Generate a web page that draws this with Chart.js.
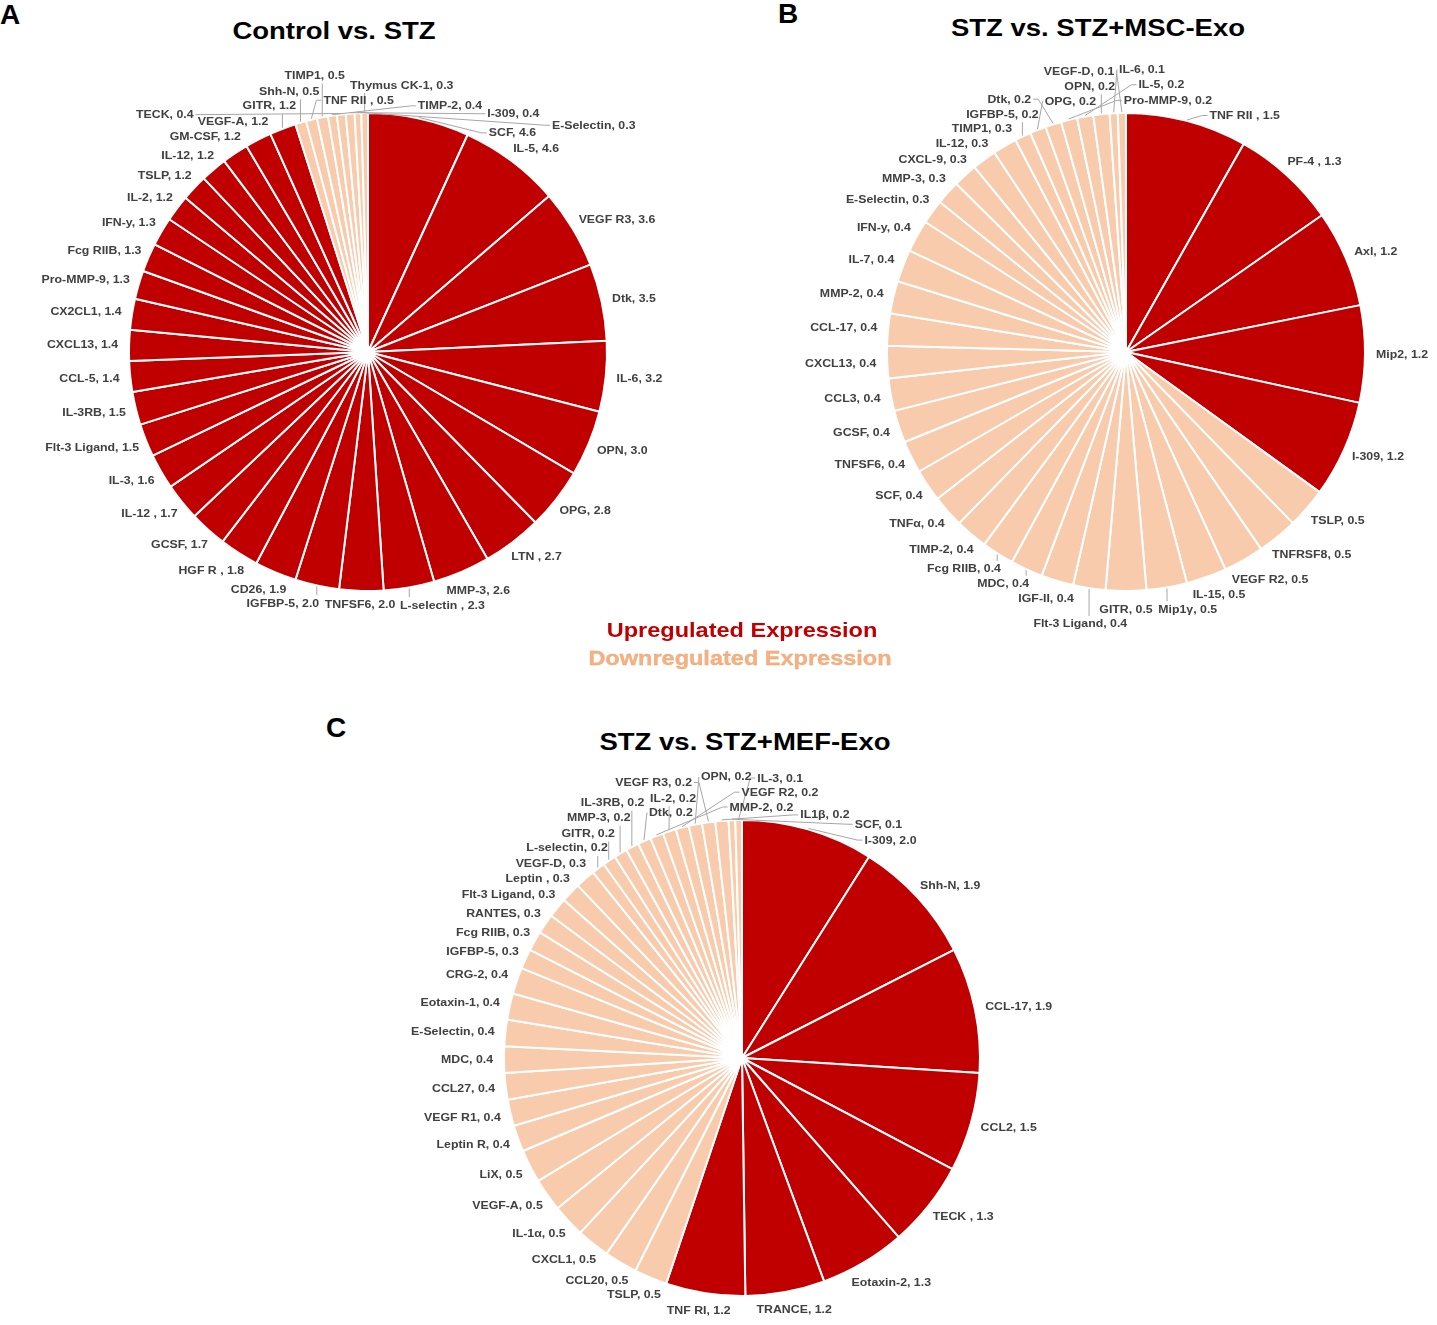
<!DOCTYPE html>
<html>
<head>
<meta charset="utf-8">
<script src="https://cdn.jsdelivr.net/npm/chart.js@4.4.1/dist/chart.umd.min.js"></script>
<style>
html,body{margin:0;padding:0;background:#fff;width:1437px;height:1325px;overflow:hidden;font-family:"Liberation Sans",Arial,sans-serif;}
.letter{position:absolute;font-weight:bold;font-size:28px;line-height:1;color:#000;white-space:nowrap;}
.title{position:absolute;font-weight:bold;font-size:23.5px;line-height:1;color:#000;white-space:nowrap;transform:translateX(-50%) scaleX(1.17);}
.leg{position:absolute;font-weight:bold;font-size:21px;line-height:1;white-space:nowrap;transform:translateX(-50%) scaleX(1.12);z-index:5;}
.box{position:absolute;}
</style>
</head>
<body>
<div class="letter" style="left:0px;top:1.3px">A</div>
<div class="letter" style="left:778px;top:0.3px">B</div>
<div class="letter" style="left:326px;top:714.3px">C</div>
<div class="title" style="left:334px;top:19.6px">Control vs. STZ</div>
<div class="title" style="left:1098px;top:16.5px">STZ vs. STZ+MSC-Exo</div>
<div class="title" style="left:744.5px;top:730.5px">STZ vs. STZ+MEF-Exo</div>
<div class="leg" style="left:742px;top:619px;color:#c00000">Upregulated Expression</div>
<div class="leg" style="left:740px;top:647.3px;color:#f4b183;-webkit-text-stroke:0.3px #eba070">Downregulated Expression</div>

<div class="box" id="boxA" style="left:0px;top:50px;width:740px;height:565px"><canvas id="cA"></canvas></div>
<div class="box" id="boxB" style="left:770px;top:50px;width:667px;height:590px"><canvas id="cB"></canvas></div>
<div class="box" id="boxC" style="left:330px;top:762px;width:790px;height:563px"><canvas id="cC"></canvas></div>

<script>
// ---------------- DATA ----------------
// A: Control vs. STZ (fold change, clockwise from 12 o'clock)
const labelsA = ['SCF','IL-5','VEGF R3','Dtk','IL-6','OPN','OPG','LTN ','MMP-3','L-selectin ',
  'TNFSF6','IGFBP-5','CD26','HGF R ','GCSF','IL-12 ','IL-3','Flt-3 Ligand','IL-3RB','CCL-5',
  'CXCL13','CX2CL1','Pro-MMP-9','Fcg RIIB','IFN-y','IL-2','TSLP','IL-12','GM-CSF','VEGF-A',
  'GITR','Shh-N','TNF RII ','TIMP1','TIMP-2','TECK','I-309','E-Selectin','Thymus CK-1'];
const valuesA = [4.6,4.6,3.6,3.5,3.2,3.0,2.8,2.7,2.6,2.3,
  2.0,2.0,1.9,1.8,1.7,1.7,1.6,1.5,1.5,1.4,
  1.4,1.4,1.3,1.3,1.3,1.2,1.2,1.2,1.2,1.2,
  1.2,0.5,0.5,0.5,0.4,0.4,0.4,0.3,0.3];

// B: STZ vs. STZ+MSC-Exo
const labelsB = ['TNF RII ','PF-4 ','Axl','Mip2','I-309',
  'TSLP','TNFRSF8','VEGF R2','IL-15','Mip1\u03b3','GITR',
  'Flt-3 Ligand','IGF-II','MDC','Fcg RIIB','TIMP-2','TNF\u03b1','SCF','TNFSF6','GCSF','CCL3',
  'CXCL13','CCL-17','MMP-2','IL-7','IFN-y',
  'E-Selectin','MMP-3','CXCL-9','IL-12','TIMP1',
  'IGFBP-5','OPG','Dtk','Pro-MMP-9','IL-5','OPN','IL-6','VEGF-D'];
const valuesB = [1.5,1.3,1.2,1.2,1.2,
  0.5,0.5,0.5,0.5,0.5,0.5,
  0.4,0.4,0.4,0.4,0.4,0.4,0.4,0.4,0.4,0.4,
  0.4,0.4,0.4,0.4,0.4,
  0.3,0.3,0.3,0.3,0.3,
  0.2,0.2,0.2,0.2,0.2,0.2,0.1,0.1];

// C: STZ vs. STZ+MEF-Exo
const labelsC = ['I-309','Shh-N','CCL-17','CCL2','TECK ','Eotaxin-2','TRANCE','TNF RI',
  'TSLP','CCL20','CXCL1','IL-1\u03b1','VEGF-A','LiX',
  'Leptin R','VEGF R1','CCL27','MDC','E-Selectin','Eotaxin-1','CRG-2',
  'IGFBP-5','Fcg RIIB','RANTES','Flt-3 Ligand','Leptin ','VEGF-D',
  'L-selectin','GITR','MMP-3','IL-3RB','Dtk','MMP-2','IL-2','VEGF R2','OPN','VEGF R3','IL1\u03b2',
  'SCF','IL-3'];
const valuesC = [2.0,1.9,1.9,1.5,1.3,1.3,1.2,1.2,
  0.5,0.5,0.5,0.5,0.5,0.5,
  0.4,0.4,0.4,0.4,0.4,0.4,0.4,
  0.3,0.3,0.3,0.3,0.3,0.3,
  0.2,0.2,0.2,0.2,0.2,0.2,0.2,0.2,0.2,0.2,0.2,
  0.1,0.1];

// ---------------- STYLE ----------------
const UP = '#c00000';
const DOWN = '#f8cbad';
const SX = 1.12;
const LABEL_FONT = 'bold 11px "Liberation Sans", Arial, sans-serif';
const LH = 14;
const GAP = 11;
const LINE_MIN = 6;

const OFFSETS = (() => {
  const arr = [];
  for (let dx = -320; dx <= 320; dx += 2)
    for (let dy = -180; dy <= 180; dy += 2)
      arr.push([dx, dy, Math.hypot(dx, 1.4 * dy), Math.hypot(dx, dy)]);
  arr.sort((a, b) => a[2] - b[2]);
  return arr;
})();

function segHitsRect(x1, y1, x2, y2, r) {
  let t0 = 0, t1 = 1;
  const dx = x2 - x1, dy = y2 - y1;
  const p = [-dx, dx, -dy, dy];
  const q = [x1 - r.x, r.x + r.w - x1, y1 - r.y, r.y + r.h - y1];
  for (let i = 0; i < 4; i++) {
    if (p[i] === 0) { if (q[i] < 0) return false; }
    else {
      const t = q[i] / p[i];
      if (p[i] < 0) { if (t > t1) return false; if (t > t0) t0 = t; }
      else { if (t < t0) return false; if (t < t1) t1 = t; }
    }
  }
  return true;
}

function segMinDist(x1, y1, x2, y2, cx, cy) {
  const dx = x2 - x1, dy = y2 - y1;
  const L = dx * dx + dy * dy;
  let t = L > 0 ? ((cx - x1) * dx + (cy - y1) * dy) / L : 0;
  t = Math.max(0, Math.min(1, t));
  return Math.hypot(x1 + t * dx - cx, y1 + t * dy - cy);
}

function leaderPts(ex, ey, b) {
  const my = b.y + b.h / 2;
  if (ex <= b.x) {
    const ax = b.x - 2;
    return (ax - ex > 10) ? [[ex, ey], [ax - 5, my], [ax, my]] : [[ex, ey], [ax, my]];
  }
  if (ex >= b.x + b.w) {
    const ax = b.x + b.w + 2;
    return (ex - ax > 10) ? [[ex, ey], [ax + 5, my], [ax, my]] : [[ex, ey], [ax, my]];
  }
  if (ey > b.y + b.h) return [[ex, ey], [ex, b.y + b.h + 1]];
  return [[ex, ey], [ex, b.y - 1]];
}

// level 0: strict, 1: lines may touch labels, 2: only boxes + bounds
function validBox(b, st, ex, ey, needLine, level) {
  const {placed, segs, cx, cy, r, W, H} = st;
  if (b.x < 2 || b.y < 2 || b.x + b.w > W - 2 || b.y + b.h > H - 2) return null;
  const nx = Math.max(b.x, Math.min(cx, b.x + b.w));
  const ny = Math.max(b.y, Math.min(cy, b.y + b.h));
  if (Math.hypot(nx - cx, ny - cy) < r + 5) return null;
  for (const p of placed) {
    if (b.x < p.x + p.w + 4 && b.x + b.w + 4 > p.x && b.y < p.y + p.h && b.y + b.h > p.y) return null;
  }
  if (level === 0) {
    const grown = {x: b.x - 1, y: b.y - 1, w: b.w + 2, h: b.h + 2};
    for (const s of segs) {
      if (segHitsRect(s[0], s[1], s[2], s[3], grown)) return null;
    }
  }
  let pts = [];
  if (needLine) {
    pts = leaderPts(ex, ey, b);
    for (let k = 1; k < pts.length; k++) {
      const x1 = pts[k - 1][0], y1 = pts[k - 1][1], x2 = pts[k][0], y2 = pts[k][1];
      if (level < 2 && segMinDist(x1, y1, x2, y2, cx, cy) < r - 0.5) return null;
      if (level === 0) {
        for (const p of placed) {
          if (segHitsRect(x1, y1, x2, y2, p)) return null;
        }
      }
    }
  }
  return pts;
}

function labelPlugin(names, values) {
  return {
    id: 'sliceLabels',
    afterDatasetsDraw(chart) {
      const ctx = chart.ctx;
      const arcs = chart.getDatasetMeta(0).data;
      ctx.save();
      ctx.font = LABEL_FONT;
      const st = {placed: [], segs: [], cx: 0, cy: 0, r: 0, W: chart.width, H: chart.height};
      const out = [];
      const info = arcs.map((arc, i) => {
        const p = arc.getProps(['x', 'y', 'startAngle', 'endAngle', 'outerRadius'], true);
        const mid = (p.startAngle + p.endAngle) / 2;
        const fromTop = ((mid + Math.PI / 2) * 180 / Math.PI + 360) % 360;
        return {i, p, mid, key: (fromTop + 180) % 360};
      });
      // place left half (from bottom upwards) first, then the right half (from top downwards)
      info.sort((a, b) => a.key - b.key);
      for (const it of info) {
        const p = it.p, i = it.i, mid = it.mid;
        st.cx = p.x; st.cy = p.y; st.r = p.outerRadius;
        const ux = Math.cos(mid), uy = Math.sin(mid);
        const text = names[i] + ', ' + values[i].toFixed(1);
        const w = ctx.measureText(text).width * SX;
        const h = LH;
        const d = p.outerRadius + GAP;
        const icx = p.x + d * ux + (w / 2) * ux;
        const icy = p.y + d * uy + (h / 2) * uy;
        const bx0 = icx - w / 2, by0 = icy - h / 2;
        const ex = p.x + (p.outerRadius + 1) * ux, ey = p.y + (p.outerRadius + 1) * uy;
        let box = null, pts = [];
        for (let level = 0; level < 3 && !box; level++) {
          for (const o of OFFSETS) {
            const b = {x: bx0 + o[0], y: by0 + o[1], w: w, h: h};
            const res = validBox(b, st, ex, ey, o[3] >= LINE_MIN, level);
            if (res) { box = b; pts = res; break; }
          }
        }
        if (!box) box = {x: bx0, y: by0, w: w, h: h};
        st.placed.push(box);
        for (let k = 1; k < pts.length; k++) st.segs.push([pts[k - 1][0], pts[k - 1][1], pts[k][0], pts[k][1]]);
        out.push({box, text, pts});
      }
      ctx.strokeStyle = '#a6a6a6';
      ctx.lineWidth = 1;
      out.forEach(o => {
        if (o.pts.length < 2) return;
        ctx.beginPath();
        ctx.moveTo(o.pts[0][0], o.pts[0][1]);
        for (let k = 1; k < o.pts.length; k++) ctx.lineTo(o.pts[k][0], o.pts[k][1]);
        ctx.stroke();
      });
      ctx.fillStyle = '#404040';
      ctx.textBaseline = 'middle';
      ctx.textAlign = 'left';
      out.forEach(o => {
        ctx.save();
        ctx.translate(o.box.x, o.box.y + o.box.h / 2 + 0.5);
        ctx.scale(SX, 1);
        ctx.fillText(o.text, 0, 0);
        ctx.restore();
      });
      ctx.restore();
    }
  };
}

function makePie(canvasId, box, names, values, geo) {
  const R = geo.R, side = 2 * R + 2;
  const pl = geo.cx - box.left - (R + 1);
  const pt = geo.cy - box.top - (R + 1);
  const pr = box.width - pl - side;
  const pb = box.height - pt - side;
  return new Chart(document.getElementById(canvasId), {
    type: 'pie',
    data: {
      labels: names,
      datasets: [{
        data: values,
        backgroundColor: values.map(v => v >= 1 ? UP : DOWN),
        borderColor: '#ffffff',
        borderWidth: 2,
        hoverOffset: 0,
        offset: 0
      }]
    },
    options: {
      responsive: true,
      maintainAspectRatio: false,
      animation: false,
      events: [],
      layout: {padding: {left: pl, top: pt, right: pr, bottom: pb}},
      plugins: {legend: {display: false}, tooltip: {enabled: false}, title: {display: false}}
    },
    plugins: [labelPlugin(names, values)]
  });
}

makePie('cA', {left: 0, top: 50, width: 740, height: 565}, labelsA, valuesA, {cx: 368, cy: 352, R: 239});
makePie('cB', {left: 770, top: 50, width: 667, height: 590}, labelsB, valuesB, {cx: 1126, cy: 352, R: 239});
makePie('cC', {left: 330, top: 762, width: 790, height: 563}, labelsC, valuesC, {cx: 742, cy: 1058, R: 238});
</script>
</body>
</html>
